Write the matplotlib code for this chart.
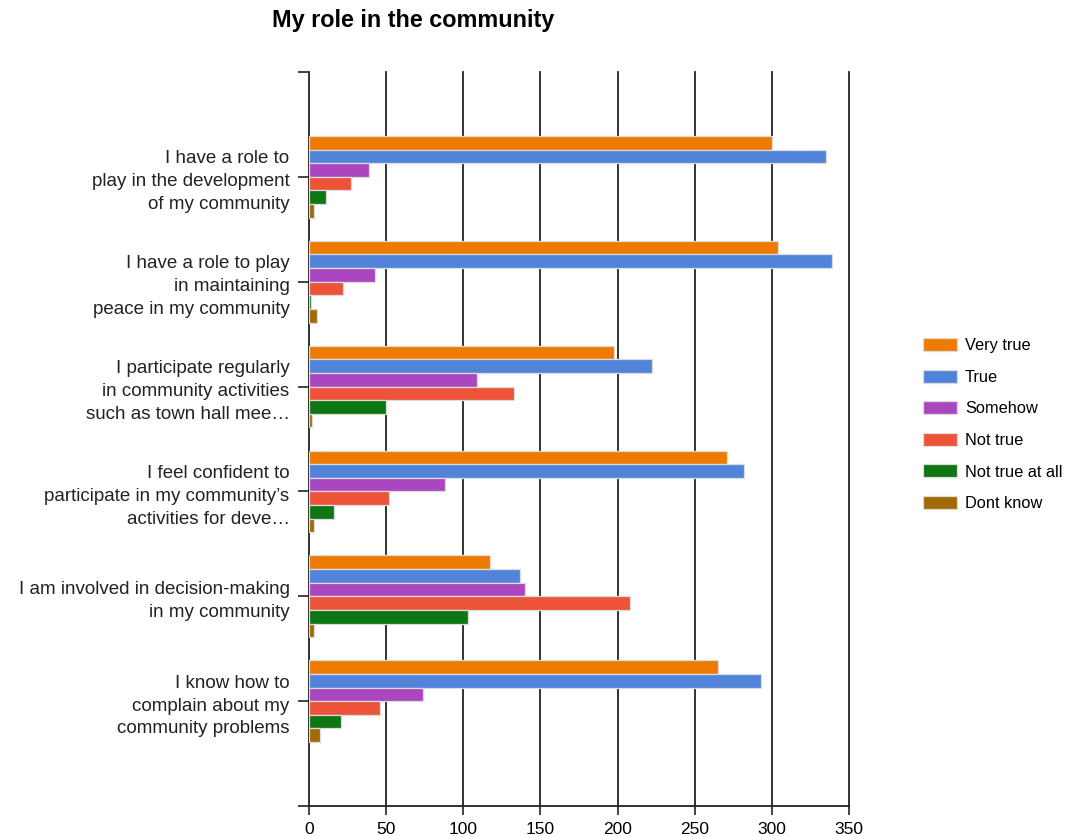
import matplotlib
matplotlib.use("Agg")
import matplotlib.pyplot as plt
import numpy as np

plt.rcParams["font.family"] = ["Liberation Sans", "DejaVu Sans"]

# Survey statements (top to bottom) and answer counts per category
statements = [
    "I have a role to\nplay in the development\nof my community",
    "I have a role to play\nin maintaining\npeace in my community",
    "I participate regularly\nin community activities\nsuch as town hall mee\u2026",
    "I feel confident to\nparticipate in my community\u2019s\nactivities for deve\u2026",
    "I am involved in decision-making\nin my community",
    "I know how to\ncomplain about my\ncommunity problems",
]
answers = ["Very true", "True", "Somehow", "Not true", "Not true at all", "Dont know"]

very_true = [300, 304, 198, 271, 117, 265]
true_ = [335, 339, 222, 282, 137, 293]
somehow = [39, 43, 109, 88, 140, 74]
not_true = [27, 22, 133, 52, 208, 46]
not_true_at_all = [11, 1, 50, 16, 103, 21]
dont_know = [3, 5, 2, 3, 3, 7]

series = [very_true, true_, somehow, not_true, not_true_at_all, dont_know]
colors = ["#EE7B00", "#5183DA", "#AA46C0", "#EC5339", "#0E7612", "#A26A04"]

x_ticks = [0, 50, 100, 150, 200, 250, 300, 350]

W, H = 1066, 836
fig = plt.figure(figsize=(W / 100, H / 100), dpi=100)
ax = fig.add_axes([309 / W, 1 - 806 / H, (849 - 309) / W, (806 - 72) / H])

bar_h = 0.13
pos = np.arange(1, len(statements) + 1)
for i, (vals, col, name) in enumerate(zip(series, colors, answers)):
    ax.barh(pos + (i - 2.5) * bar_h, vals, height=bar_h, color=col,
            edgecolor="#dcdcdc", linewidth=0.9, label=name, zorder=3)

ax.set_xlim(0, 350)
ax.set_ylim(7, 0)
ax.set_xticks(x_ticks)
ax.set_xticklabels([str(t) for t in x_ticks], fontsize=12.5)
ax.set_yticks(range(0, 8))
ax.set_yticklabels([""] + statements + [""], fontsize=13.5, color="#222222")
for lbl in ax.get_yticklabels():
    lbl.set_linespacing(1.45)
ax.tick_params(axis="y", length=8, width=1.2, pad=6, color="#222222")
ax.tick_params(axis="x", length=6.5, width=1.2, pad=5, color="#222222")

for t in x_ticks[1:]:
    ax.axvline(t, color="#222222", linewidth=1.3, zorder=1, clip_on=False)

for side in ("top", "right"):
    ax.spines[side].set_visible(False)
for side in ("left", "bottom"):
    ax.spines[side].set_linewidth(1.3)
    ax.spines[side].set_color("#222222")

fig.text(413.5 / W, 1 - 21 / H, "My role in the community", ha="center",
         va="center", fontsize=16.8, fontweight="bold")

fig.legend(loc="upper left", bbox_to_anchor=(923 / W, 1 - 338 / H),
           frameon=False, fontsize=11.8, handlelength=2.1, handleheight=0.85,
           handletextpad=0.45, labelspacing=1.0, borderaxespad=0, borderpad=0)

fig.savefig("out.png", dpi=100, facecolor="white")
